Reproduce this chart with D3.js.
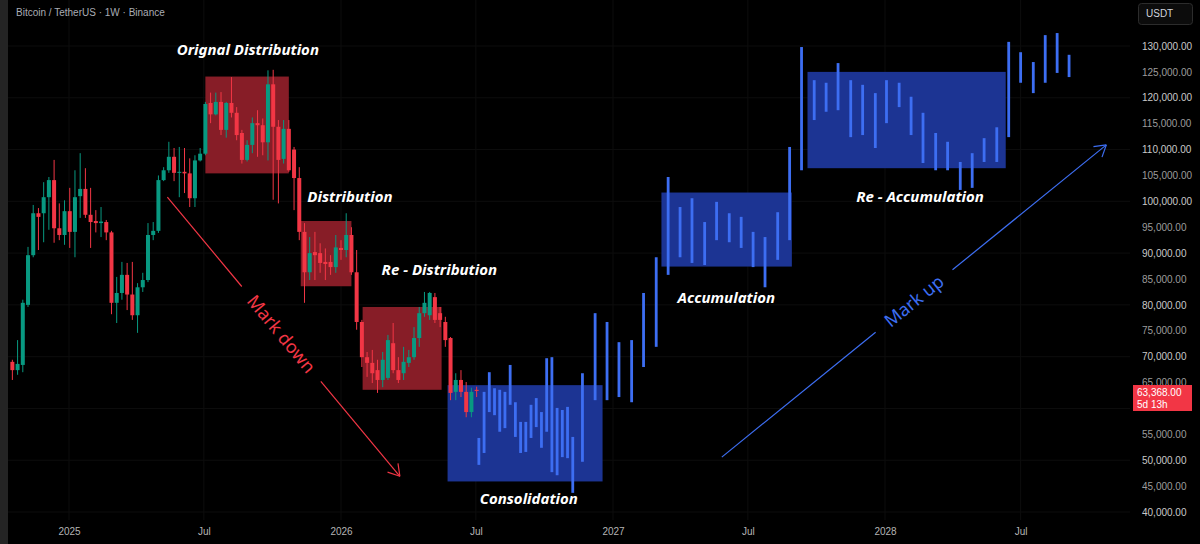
<!DOCTYPE html>
<html>
<head>
<meta charset="utf-8">
<script src="https://cdn.jsdelivr.net/npm/d3@7"></script>
<style>
  body { margin: 0; background: #000; }
  svg { display: block; }
</style>
</head>
<body>
<svg id="chart" width="1200" height="544"></svg>
<script>
var candleStart = "2024-10-17";
// weekly [open, high, low, close]
var candles = [
  [69000, 69400, 65500, 67400], [67400, 73200, 66500, 68600], [68400, 81000, 67000, 80400],
  [80000, 91200, 79600, 89600], [89600, 99300, 89200, 97700], [97700, 98700, 90600, 97000],
  [97700, 103700, 92100, 100800], [100800, 104700, 94500, 104100], [104100, 108000, 92000, 94800],
  [94800, 99600, 92500, 93500], [93500, 100200, 91600, 98100], [98100, 102600, 91000, 94100],
  [94100, 106000, 89200, 100800], [101000, 109300, 96800, 102400], [102400, 106400, 96800, 97400],
  [97400, 102600, 91000, 96000], [96200, 98300, 94000, 95800], [95800, 98900, 93100, 96100],
  [96000, 96400, 92500, 94000], [94000, 94300, 78200, 80400], [80400, 85400, 76500, 82300],
  [82300, 88300, 81000, 85800], [85800, 88100, 79000, 82000], [82000, 88300, 77100, 78000],
  [78000, 84200, 74600, 83400], [83400, 86200, 82500, 84800], [84800, 95800, 84400, 93500],
  [93500, 96000, 92500, 94300], [94300, 105000, 93900, 104100], [104100, 106600, 103900, 106000],
  [106000, 111500, 105500, 108600], [108600, 110300, 103900, 105500], [105500, 110500, 100800, 105700],
  [105700, 110300, 101600, 105400], [105400, 108300, 98900, 100600], [100600, 108900, 98900, 107900],
  [107900, 110300, 107700, 109200], [109200, 119200, 108900, 118800], [119000, 121000, 115100, 116800],
  [116800, 121000, 116600, 119200], [119200, 121100, 112800, 113800], [113800, 119200, 112300, 119000],
  [119000, 124000, 116200, 117100], [117100, 118200, 111800, 112800], [113200, 113800, 107300, 108000],
  [108000, 111800, 107700, 110900], [110900, 116200, 109300, 115100], [115100, 117600, 108600, 114700],
  [114700, 116000, 108900, 111400], [111400, 125300, 107900, 122600], [122600, 125400, 100300, 114400],
  [114400, 115700, 99600, 108000], [108200, 115700, 107300, 114000], [114000, 115700, 105700, 106000],
  [110000, 110500, 98300, 104500], [104500, 106600, 92500, 94100], [94100, 95800, 80400, 86300],
  [86300, 93100, 84800, 90000], [90200, 94100, 84800, 89600], [90000, 91900, 86200, 88100],
  [88300, 90900, 84800, 87900], [88300, 89600, 85800, 87300], [87300, 93500, 86200, 91100],
  [91000, 92500, 88700, 90600], [90600, 97700, 89200, 93500], [93500, 95000, 85800, 86300],
  [86300, 90600, 75200, 76700], [76700, 77100, 68000, 69900], [69900, 70900, 66100, 68800],
  [68800, 71300, 64900, 66800], [67400, 69400, 63000, 65500], [65500, 70900, 64100, 69400],
  [65900, 74200, 65500, 73200], [72600, 76500, 66800, 67400], [67400, 69900, 64900, 65500],
  [66800, 71900, 65500, 69000], [68800, 71300, 68000, 69900], [69900, 75700, 69400, 73600],
  [73600, 79600, 71900, 78400], [78400, 82500, 77700, 80400], [78000, 82500, 77100, 82300],
  [81500, 82300, 76500, 77100], [78400, 79600, 75700, 77100], [76700, 77700, 71900, 73200],
  [73600, 73800, 61600, 63000], [63200, 66800, 61600, 65500], [65500, 67400, 62200, 63200],
  [63200, 65100, 58300, 59300], [59300, 64000, 58300, 63200], [63600, 64200, 62200, 63368]
];

// projected bars (blue)
var projDates = [
  "2026-07-05", "2026-07-12", "2026-07-19", "2026-07-26", "2026-08-02", "2026-08-09", "2026-08-16",
  "2026-08-23", "2026-08-30", "2026-09-06", "2026-09-13", "2026-09-20", "2026-09-27", "2026-10-04",
  "2026-10-11", "2026-10-18", "2026-10-25", "2026-11-01", "2026-11-08",
  "2026-11-21", "2026-12-08", "2026-12-24", "2027-01-09", "2027-01-26", "2027-02-11", "2027-02-28",
  "2027-03-16", "2027-04-01", "2027-04-17", "2027-05-04", "2027-05-20", "2027-06-06", "2027-06-22",
  "2027-07-08", "2027-07-24", "2027-08-10", "2027-08-26", "2027-09-11", "2027-09-28", "2027-10-14",
  "2027-10-30", "2027-11-16", "2027-12-02", "2027-12-19", "2028-01-03", "2028-01-20", "2028-02-05",
  "2028-02-21", "2028-03-09", "2028-03-25", "2028-04-11", "2028-04-27", "2028-05-13", "2028-05-30",
  "2028-06-15", "2028-07-01", "2028-07-18", "2028-08-03", "2028-08-19", "2028-09-04"
];
var projHigh = [
  54300, 63200, 67000, 63900, 63600, 63200, 68400, 61200, 57400, 57400, 60700, 62000, 59300, 69700,
  69900, 60100, 59700, 60300, 54500,
  66800, 78400, 76700, 72800, 73200, 82300, 89200, 104700, 98900, 100600, 96000, 99900, 97700, 97000,
  94100, 93100, 97900, 110500, 129800, 123400, 122900, 126700, 123400, 122500, 120900, 123400, 122900,
  120200, 117100, 113200, 111500, 107600, 109300, 112200, 114300, 130800, 128800, 126900, 132100,
  132500, 128300
];
var projLow = [
  49100, 51400, 59300, 58700, 55500, 56200, 60700, 54500, 51400, 51600, 54300, 56400, 52400, 55500,
  47700, 47100, 50600, 50400, 43700,
  49700, 61600, 61600, 62200, 61200, 68000, 71900, 85800, 89200, 88100, 87700, 92500, 92100, 91000,
  87300, 83400, 88700, 92500, 106000, 115700, 117300, 117600, 112400, 112800, 110300, 115100, 118200,
  112800, 107400, 106000, 106000, 102200, 102600, 107600, 107600, 112400, 122900, 120900, 122900,
  124800, 124000
];

// zones: [start, end, top price, bottom price, kind]
var zones = [
  ["2025-07-03", "2025-10-23", 124100, 105400, "down"],
  ["2025-11-08", "2026-01-15", 96200, 83600, "down"],
  ["2026-01-30", "2026-05-16", 79600, 63600, "down"],
  ["2026-05-24", "2026-12-18", 64500, 45900, "up"],
  ["2027-03-07", "2027-08-29", 101700, 87400, "up"],
  ["2027-09-19", "2028-06-11", 125000, 106400, "up"]
];
var zoneLabels = ["Orignal Distribution", "Distribution", "Re - Distribution", "Consolidation", "Accumulation", "Re - Accumulation"];
var labelDates = ["2025-08-29", "2026-01-13", "2026-05-13", "2026-09-10", "2027-06-02", "2028-02-17"];
var labelPrices = [128300, 99900, 85800, 41500, 80400, 99900];

// trend arrows: [start date, start price, end date, end price]
var markDown = ["2025-05-13", 100800, "2026-03-21", 46900];
var markUp = ["2027-05-27", 50600, "2028-10-24", 110900];

var priceTicks = d3.range(40000, 130001, 5000);
var hiddenTick = 60000; // sits behind the last price label
var timeTicks = ["2025-01-01", "2025-07-01", "2026-01-01", "2026-07-01", "2027-01-01", "2027-07-01", "2028-01-01", "2028-07-01"];
var lastPrice = 63368;

var green = "#089981", red = "#f23645", blue = "#3d6ef2";
var parse = d3.utcParse("%Y-%m-%d");

var svg = d3.select("#chart");

var x = d3.scaleUtc()
    .domain([parse("2025-01-01"), parse("2028-01-01")])
    .range([69, 885]);
var y = d3.scaleLinear()
    .domain([40000, 130000])
    .range([512, 46]);

svg.append("rect").attr("width", 1200).attr("height", 544).attr("fill", "#000");
svg.append("rect").attr("width", 8).attr("height", 544).attr("fill", "#242424");

// faint grid
svg.append("g").selectAll("line")
  .data(priceTicks.filter(function(d) { return d % 10000 == 0; }))
  .enter().append("line")
    .attr("x1", 8).attr("x2", 1130)
    .attr("y1", function(d) { return y(d); })
    .attr("y2", function(d) { return y(d); })
    .attr("stroke", "#0d0d0d");
svg.append("g").selectAll("line")
  .data(timeTicks)
  .enter().append("line")
    .attr("x1", function(d) { return x(parse(d)); })
    .attr("x2", function(d) { return x(parse(d)); })
    .attr("y1", 0).attr("y2", 520)
    .attr("stroke", "#0d0d0d");

// zone boxes
svg.append("g").selectAll("rect")
  .data(zones)
  .enter().append("rect")
    .attr("x", function(d) { return x(parse(d[0])); })
    .attr("width", function(d) { return x(parse(d[1])) - x(parse(d[0])); })
    .attr("y", function(d) { return y(d[2]); })
    .attr("height", function(d) { return y(d[3]) - y(d[2]); })
    .attr("fill", function(d) { return d[4] == "down" ? "#921f2a" : "#1e389f"; })
    .attr("fill-opacity", 0.92);

// candles
var start = parse(candleStart);
var cg = svg.append("g").selectAll("g")
  .data(candles)
  .enter().append("g")
    .attr("transform", function(d, i) { return "translate(" + x(d3.utcDay.offset(start, i * 7)) + ",0)"; })
    .attr("fill", function(d) { return d[3] >= d[0] ? green : red; })
    .attr("stroke", function(d) { return d[3] >= d[0] ? green : red; });
cg.append("line")
    .attr("y1", function(d) { return y(d[1]); })
    .attr("y2", function(d) { return y(d[2]); })
    .attr("stroke-width", 1);
cg.append("rect")
    .attr("x", -2).attr("width", 4)
    .attr("stroke", "none")
    .attr("y", function(d) { return y(Math.max(d[0], d[3])); })
    .attr("height", function(d) { return Math.max(1, Math.abs(y(d[0]) - y(d[3]))); });

// projected bars
svg.append("g").selectAll("rect")
  .data(projDates)
  .enter().append("rect")
    .attr("x", function(d) { return x(parse(d)) - 1.4; })
    .attr("width", 2.8)
    .attr("y", function(d, i) { return y(projHigh[i]); })
    .attr("height", function(d, i) { return y(projLow[i]) - y(projHigh[i]); })
    .attr("fill", blue);

// zone labels
svg.append("g").selectAll("text")
  .data(zoneLabels)
  .enter().append("text")
    .attr("x", function(d, i) { return x(parse(labelDates[i])); })
    .attr("y", function(d, i) { return y(labelPrices[i]); })
    .attr("text-anchor", "middle")
    .attr("font-family", "Noto Sans, sans-serif")
    .attr("font-size", 15)
    .attr("font-weight", "bold")
    .attr("font-style", "italic")
    .attr("fill", "#fff")
    .text(function(d) { return d; });

function drawArrow(m, label, color, gapA, gapB) {
  var x1 = x(parse(m[0])), y1 = y(m[1]), x2 = x(parse(m[2])), y2 = y(m[3]);
  var dx = x2 - x1, dy = y2 - y1;
  var ang = Math.atan2(dy, dx);
  var g = svg.append("g").attr("stroke", color).attr("stroke-width", 1.2).attr("fill", "none");
  g.append("line").attr("x1", x1).attr("y1", y1)
      .attr("x2", x1 + dx * gapA).attr("y2", y1 + dy * gapA);
  g.append("line").attr("x1", x1 + dx * gapB).attr("y1", y1 + dy * gapB)
      .attr("x2", x2).attr("y2", y2);
  [-0.55, 0.55].forEach(function(a) {
    g.append("line").attr("x1", x2).attr("y1", y2)
        .attr("x2", x2 - 13 * Math.cos(ang + a))
        .attr("y2", y2 - 13 * Math.sin(ang + a));
  });
  var t = (gapA + gapB) / 2;
  svg.append("text")
      .attr("transform", "translate(" + (x1 + dx * t) + "," + (y1 + dy * t) + ") rotate(" + (ang * 180 / Math.PI) + ")")
      .attr("text-anchor", "middle")
      .attr("dy", "0.35em")
      .attr("font-family", "Noto Sans, sans-serif")
      .attr("font-size", 18)
      .attr("fill", color)
      .text(label);
}
drawArrow(markDown, "Mark down", red, 0.32, 0.66);
drawArrow(markUp, "Mark up", blue, 0.40, 0.60);

// price axis
var yAxis = svg.append("g")
    .attr("transform", "translate(1142,0)")
    .call(d3.axisRight(y)
      .tickValues(priceTicks.filter(function(d) { return d != hiddenTick; }))
      .tickSize(0)
      .tickPadding(0)
      .tickFormat(d3.format(",.2f")));
yAxis.select(".domain").remove();
yAxis.selectAll("text")
    .attr("font-family", "Liberation Sans, Arial, sans-serif")
    .attr("font-size", 10)
    .attr("fill", function(d) { return d % 10000 == 0 ? "#c9c9c9" : "#9c9c9c"; });

// time axis
var xAxis = svg.append("g")
    .attr("transform", "translate(0,524)")
    .call(d3.axisBottom(x)
      .tickValues(timeTicks.map(parse))
      .tickSize(0)
      .tickPadding(4)
      .tickFormat(function(d) { return d.getUTCMonth() == 0 ? d.getUTCFullYear() : "Jul"; }));
xAxis.select(".domain").remove();
xAxis.selectAll("text")
    .attr("font-family", "Liberation Sans, Arial, sans-serif")
    .attr("font-size", 10)
    .attr("fill", "#b4b4b4");

// last price label
var py = y(lastPrice);
svg.append("rect")
    .attr("x", 1133).attr("y", py - 6)
    .attr("width", 59).attr("height", 26)
    .attr("fill", red);
svg.append("text")
    .attr("x", 1137).attr("y", py + 5)
    .attr("font-family", "Liberation Sans, Arial, sans-serif")
    .attr("font-size", 10).attr("fill", "#fff")
    .text(d3.format(",.2f")(lastPrice));
svg.append("text")
    .attr("x", 1137).attr("y", py + 17)
    .attr("font-family", "Liberation Sans, Arial, sans-serif")
    .attr("font-size", 10).attr("fill", "#fff")
    .text("5d 13h");

// header
svg.append("text")
    .attr("x", 16).attr("y", 16)
    .attr("font-family", "Liberation Sans, Arial, sans-serif")
    .attr("font-size", 10).attr("fill", "#a9acb4")
    .text("Bitcoin / TetherUS \u00b7 1W \u00b7 Binance");

svg.append("rect")
    .attr("x", 1138.5).attr("y", 3.5)
    .attr("width", 54).attr("height", 21).attr("rx", 3)
    .attr("fill", "#0c0c0c").attr("stroke", "#2c2c2c");
svg.append("text")
    .attr("x", 1146).attr("y", 17)
    .attr("font-family", "Liberation Sans, Arial, sans-serif")
    .attr("font-size", 10).attr("fill", "#d1d4dc")
    .text("USDT");
</script>
</body>
</html>
